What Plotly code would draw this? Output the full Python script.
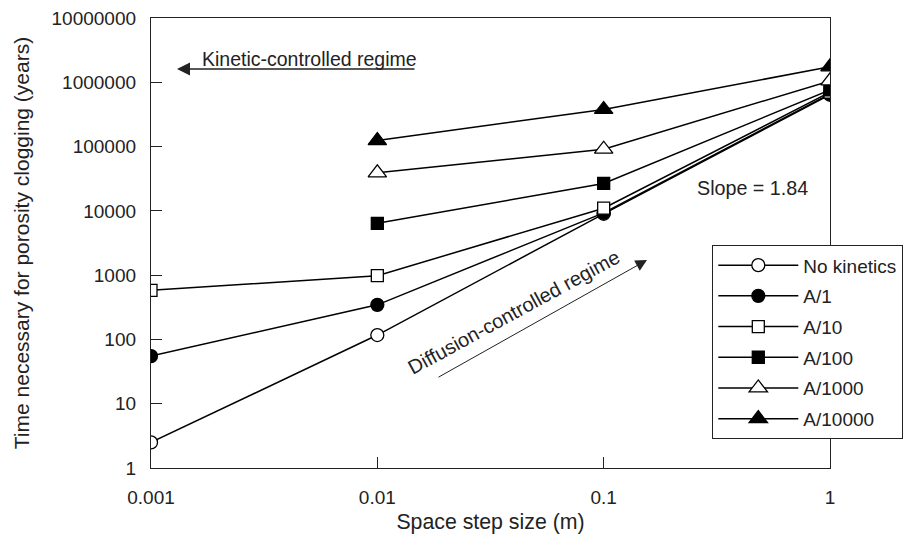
import plotly.graph_objects as go

# Space step size (m)
step_size = [0.001, 0.01, 0.1, 1]

# Time necessary for porosity clogging (years) for each kinetic case
no_kinetics = [2.5, 117, 9000, 640000]
a_1 = [55, 345, 9300, 660000]
a_10 = [580, 980, 11000, 700000]
a_100 = [None, 6400, 26700, 760000]
a_1000 = [None, 39000, 91000, 1050000]
a_10000 = [None, 124000, 378000, 1740000]

series_names = ["No kinetics", "A/1", "A/10", "A/100", "A/1000", "A/10000"]
series_values = [no_kinetics, a_1, a_10, a_100, a_1000, a_10000]
series_symbols = ["circle", "circle", "square", "square", "triangle-up", "triangle-up"]
series_fills = ["white", "black", "white", "black", "white", "black"]
series_sizes = [13, 13, 12, 12, 16, 16]

x_ticks = [0.001, 0.01, 0.1, 1]
x_tick_labels = ["0.001", "0.01", "0.1", "1"]
y_ticks = [1, 10, 100, 1000, 10000, 100000, 1000000, 10000000]
y_tick_labels = ["1", "10", "100", "1000", "10000", "100000", "1000000", "10000000"]

FONT = "Liberation Sans, Arial, Helvetica, sans-serif"
INK = "#222"

fig = go.Figure()
for i, (name, vals, sym, fill, size) in enumerate(
    zip(series_names, series_values, series_symbols, series_fills, series_sizes)
):
    fig.add_trace(
        go.Scatter(
            x=step_size,
            y=vals,
            name=name,
            mode="lines+markers",
            line=dict(color="black", width=1.5),
            marker=dict(symbol=sym, size=size, color=fill,
                        line=dict(color="black", width=1.3)),
            legendgroup=f"g{i}",
            connectgaps=False,
        )
    )

# plot area in pixels: left 151, right 830, top 18, bottom 468
W, H = 904, 536
L, R, T, B = 151, 830, 18, 468


def px(xp, yp):
    """Pixel position -> paper fraction."""
    return (xp - L) / (R - L), (B - yp) / (B - T)


def label(xp, yp, text, size, angle=0):
    x, y = px(xp, yp)
    return dict(x=x, y=y, xref="paper", yref="paper", text=text,
                showarrow=False, xanchor="center", yanchor="middle",
                textangle=angle, font=dict(family=FONT, size=size, color=INK))


def arrow(tip, tail, width, size):
    x, y = px(*tip)
    return dict(x=x, y=y, xref="paper", yref="paper", text="",
                showarrow=True, ax=tail[0] - tip[0], ay=tail[1] - tip[1],
                arrowhead=2, arrowsize=size, arrowwidth=width, arrowcolor=INK)


annotations = [
    # Kinetic-controlled regime
    label(309, 59, "Kinetic-controlled regime", 19.5),
    arrow((177, 69), (416, 69), 1.3, 2),
    # Diffusion-controlled regime
    label(514, 312, "Diffusion-controlled regime", 20, angle=-28.6),
    arrow((647, 260), (437, 378), 1, 2.3),
    # Slope
    label(752, 188, "Slope = 1.84", 19.7),
]

lx, ly = px(712, 245)

fig.update_layout(
    width=W, height=H,
    margin=dict(l=L, r=W - R, t=T, b=H - B, autoexpand=False),
    paper_bgcolor="white", plot_bgcolor="white",
    font=dict(family=FONT, size=19, color=INK),
    showlegend=True,
    legend=dict(x=lx, y=ly, xanchor="left", yanchor="top",
                bordercolor=INK, borderwidth=1.3, bgcolor="white",
                font=dict(family=FONT, size=19, color=INK),
                traceorder="grouped", tracegroupgap=3, itemwidth=80),
    annotations=annotations,
    xaxis=dict(type="log", range=[-3, 0], tickvals=x_ticks, ticktext=x_tick_labels,
               ticks="inside", ticklen=11, tickwidth=1.2, tickcolor=INK,
               showline=True, linecolor=INK, linewidth=1.3, mirror=True,
               showgrid=False, zeroline=False, ticklabelstandoff=12,
               title=dict(text="Space step size (m)", standoff=7,
                          font=dict(family=FONT, size=21.3))),
    yaxis=dict(type="log", range=[0, 7], tickvals=y_ticks, ticktext=y_tick_labels,
               ticks="inside", ticklen=11, tickwidth=1.2, tickcolor=INK,
               showline=True, linecolor=INK, linewidth=1.3, mirror=True,
               showgrid=False, zeroline=False, ticklabelstandoff=10,
               title=dict(text="Time necessary for porosity clogging (years)",
                          standoff=16, font=dict(family=FONT, size=21))),
)

fig.write_html("out.html")
